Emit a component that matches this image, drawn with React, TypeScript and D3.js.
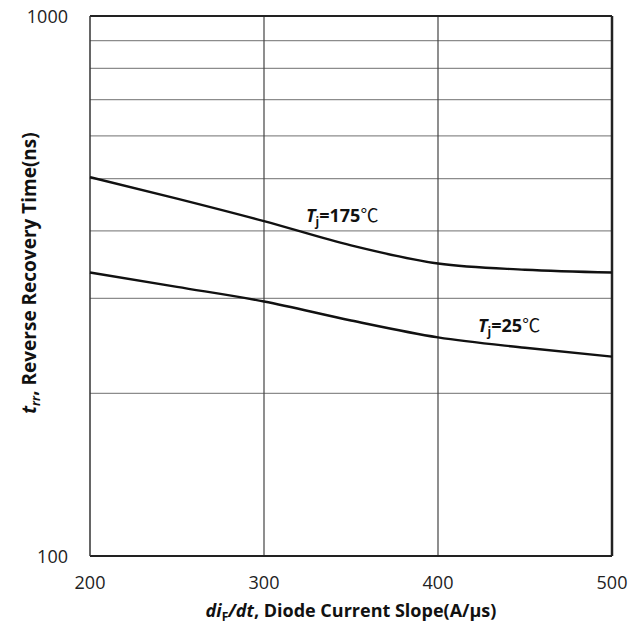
import React from "react";
import * as d3 from "d3";

const xTicks = [200, 300, 400, 500];
const yMinorGrid = [200, 300, 400, 500, 600, 700, 800, 900];
const yTickLabels = [100, 1000];
const slopeX = [200, 250, 300, 350, 400, 450, 500];
const trr175 = [503, 459, 417, 376, 348, 339, 335];
const trr25 = [335, 315, 296, 273, 254, 243, 234];

const W = 632, H = 637;
const left = 90, right = 612, top = 16, bottom = 556;
const FONT = "'Open Sans', 'Liberation Sans', sans-serif";

export default function App() {
  const x = d3.scaleLinear().domain([200, 500]).range([left, right]);
  const y = d3.scaleLog().domain([100, 1000]).range([bottom, top]);
  const line = d3
    .line<number>()
    .x((_, i) => x(slopeX[i]))
    .y((d) => y(d))
    .curve(d3.curveMonotoneX);

  return (
    <svg width={W} height={H} style={{ position: "absolute", left: 0, top: 0, background: "#fff" }}>
      <rect x={0} y={0} width={W} height={H} fill="#fff" />
      {yMinorGrid.map((v) => (
        <line key={v} x1={left} x2={right} y1={y(v)} y2={y(v)} stroke="#8c8c8c" strokeWidth={1.2} />
      ))}
      {xTicks.slice(1, -1).map((v) => (
        <line key={v} x1={x(v)} x2={x(v)} y1={top} y2={bottom} stroke="#444" strokeWidth={1.2} />
      ))}
      <line x1={left} x2={right} y1={top} y2={top} stroke="#222" strokeWidth={2} />
      <line x1={left} x2={right} y1={bottom} y2={bottom} stroke="#222" strokeWidth={2} />
      <line x1={left} x2={left} y1={top} y2={bottom} stroke="#333" strokeWidth={1.5} />
      <line x1={right} x2={right} y1={top} y2={bottom} stroke="#222" strokeWidth={2.5} />
      <path d={line(trr175) || ""} fill="none" stroke="#111" strokeWidth={2.4} />
      <path d={line(trr25) || ""} fill="none" stroke="#111" strokeWidth={2.4} />
      {yTickLabels.map((v) => (
        <text key={v} x={68} y={y(v) + 6.5} textAnchor="end" fontFamily={FONT} fontSize={18} fill="#222">
          {v}
        </text>
      ))}
      {xTicks.map((v) => (
        <text key={v} x={x(v)} y={589} textAnchor="middle" fontFamily={FONT} fontSize={18} fill="#222">
          {v}
        </text>
      ))}
      <text x={306} y={222} fontFamily={FONT} fontSize={18} fontWeight="bold" fill="#111">
        <tspan fontStyle="italic">T</tspan>
        <tspan fontSize={12} dy={4}>j</tspan>
        <tspan dy={-4}>=175</tspan>
        <tspan fontWeight="normal" fontFamily="'Noto Sans CJK SC', serif">℃</tspan>
      </text>
      <text x={478} y={332} fontFamily={FONT} fontSize={18} fontWeight="bold" fill="#111">
        <tspan fontStyle="italic">T</tspan>
        <tspan fontSize={12} dy={4}>j</tspan>
        <tspan dy={-4}>=25</tspan>
        <tspan fontWeight="normal" fontFamily="'Noto Sans CJK SC', serif">℃</tspan>
      </text>
      <text x={351} y={617} textAnchor="middle" fontFamily={FONT} fontSize={18} fontWeight="bold" fill="#111">
        <tspan fontStyle="italic">di</tspan>
        <tspan fontSize={12} dy={4}>F</tspan>
        <tspan dy={-4} fontStyle="italic">/dt</tspan>
        <tspan>, Diode Current Slope(A/μs)</tspan>
      </text>
      <text
        transform={`translate(36, 273) rotate(-90)`}
        textAnchor="middle"
        fontFamily={FONT}
        fontSize={19}
        fontWeight="bold"
        fill="#111"
      >
        <tspan fontStyle="italic">t</tspan>
        <tspan fontSize={12} dy={4} fontStyle="italic">rr</tspan>
        <tspan dy={-4}>, Reverse Recovery Time(ns)</tspan>
      </text>
    </svg>
  );
}
